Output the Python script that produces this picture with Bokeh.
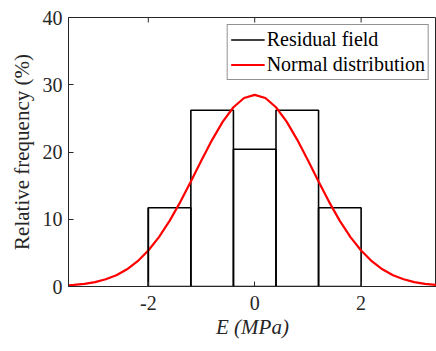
from bokeh.plotting import figure
from bokeh.models import (Range1d, FixedTicker, Legend, LegendItem)
from bokeh.embed import file_html
from bokeh.resources import INLINE
import math

# Histogram bins (MPa) and relative frequency (%)
bin_left = [-2.0, -1.2, -0.4, 0.4, 1.2]
bin_right = [-1.2, -0.4, 0.4, 1.2, 2.0]
freq = [11.7, 26.2, 20.4, 26.2, 11.7]

# Normal distribution curve
curve_x = [-3.5, -3.4, -3.2, -3.0, -2.8, -2.6, -2.4, -2.2, -2.0, -1.8, -1.6, -1.4,
           -1.2, -1.0, -0.8, -0.6, -0.4, -0.2, 0.0, 0.2, 0.4, 0.6, 0.8, 1.0, 1.2,
           1.4, 1.6, 1.8, 2.0, 2.2, 2.4, 2.6, 2.8, 3.0, 3.2, 3.4, 3.5]
curve_y = [0.17, 0.23, 0.39, 0.66, 1.07, 1.68, 2.56, 3.76, 5.35, 7.35, 9.76, 12.55,
           15.60, 18.76, 21.81, 24.52, 26.65, 28.03, 28.5, 28.03, 26.65, 24.52, 21.81,
           18.76, 15.60, 12.55, 9.76, 7.35, 5.35, 3.76, 2.56, 1.68, 1.07, 0.66, 0.39,
           0.23, 0.17]

x_ticks = [-2, 0, 2]
y_ticks = [0, 10, 20, 30, 40]

AXFONT = "Liberation Serif"
LEGFONT = "'Liberation Serif', 'Times New Roman', serif"
TXT = "#262626"

p = figure(width=436, height=351, output_backend="svg", toolbar_location=None,
           x_range=Range1d(-3.5, 3.417), y_range=Range1d(0, 40),
           min_border_left=68, min_border_right=0, min_border_top=17,
           min_border_bottom=65)
p.outline_line_color = TXT
p.outline_line_width = 1
p.grid.visible = False
p.background_fill_color = "white"

p.quad(left=bin_left, right=bin_right, bottom=0, top=freq,
       fill_color=None, line_color="black", line_width=1.6)
r_norm = p.line(curve_x, curve_y, line_color="#FF0000", line_width=2.2)
# left edge of first bar, also used as the legend glyph of the histogram
r_res = p.line([bin_left[0], bin_left[0]], [0, freq[0]], line_color="black", line_width=1.6)

# inward tick marks on the top edge (half of each dash is clipped by the frame)
p.scatter(x=x_ticks, y=[y_ticks[-1]] * len(x_ticks), marker="dash", angle=math.pi / 2,
          size=10, line_color=TXT, line_width=1)

xa = p.xaxis[0]
ya = p.yaxis[0]
for ax in (xa, ya):
    ax.axis_line_color = TXT
    ax.major_tick_line_color = TXT
    ax.major_tick_in = 5
    ax.major_tick_out = 0
    ax.minor_tick_line_color = None
    ax.major_label_text_font = AXFONT
    ax.major_label_text_font_size = "20px"
    ax.major_label_text_color = TXT
    ax.axis_label_text_font = AXFONT
    ax.axis_label_text_font_size = "21px"
    ax.axis_label_text_color = TXT

xa.ticker = FixedTicker(ticks=x_ticks)
xa.major_label_overrides = {t: str(t) for t in x_ticks}
xa.major_label_standoff = 9
xa.axis_label = "E (MPa)"
xa.axis_label_text_font_style = "italic"
xa.axis_label_standoff = 2

ya.ticker = FixedTicker(ticks=y_ticks)
ya.major_label_standoff = 6
ya.axis_label = "Relative frequency (%)"
ya.axis_label_text_font_style = "normal"
ya.axis_label_standoff = 6

legend = Legend(items=[LegendItem(label="Residual field", renderers=[r_res]),
                       LegendItem(label="Normal distribution", renderers=[r_norm])],
                location="top_right")
legend.label_text_font = LEGFONT
legend.label_text_font_size = "20px"
legend.label_text_color = "black"
legend.glyph_width = 34
legend.glyph_height = 21
legend.label_height = 21
legend.label_standoff = 2
legend.padding = 3
legend.spacing = 2
legend.margin = 7
legend.border_line_color = TXT
legend.border_line_width = 1
legend.background_fill_color = "white"
legend.background_fill_alpha = 1.0
p.add_layout(legend)

open("out.html", "w").write(file_html(p, INLINE))
